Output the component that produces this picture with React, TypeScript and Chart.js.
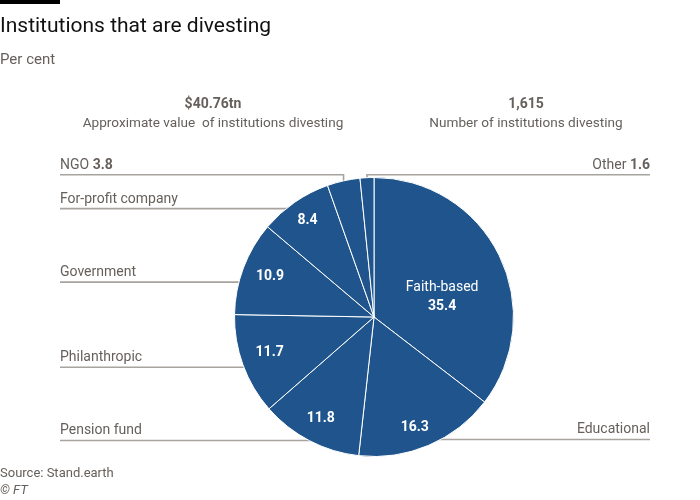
import React, { useEffect, useRef } from 'react';
import { Chart, registerables } from 'chart.js';
Chart.register(...registerables);

const categories = ['Faith-based', 'Educational', 'Pension fund', 'Philanthropic', 'Government', 'For-profit company', 'NGO', 'Other'];
const shares = [35.4, 16.3, 11.8, 11.7, 10.9, 8.4, 3.8, 1.6];
const headlineValues = ['$40.76tn', '1,615'];
const headlineCaptions = ['Approximate value  of institutions divesting', 'Number of institutions divesting'];
const titleText = 'Institutions that are divesting';
const subtitleText = 'Per cent';
const sourceText = 'Source: Stand.earth';
const creditText = '© FT';

// label layout (styling): side, leader y in units of radius from centre, inner label radius factor, angle nudge (deg)
type Lay = { side: 'left' | 'right' | 'none'; k: number; inner: number; nudge?: number; tick?: boolean; nameInside?: boolean; valueOutside?: boolean };
const labelLayout: Lay[] = [
  { side: 'none', k: 0, inner: 0.51, nudge: 9.5, nameInside: true },
  { side: 'right', k: 0.878, inner: 0.845, nudge: 2.8 },
  { side: 'left', k: 0.885, inner: 0.824 },
  { side: 'left', k: 0.36, inner: 0.79, nudge: 1.3 },
  { side: 'left', k: -0.25, inner: 0.8, nudge: 0.7 },
  { side: 'left', k: -0.777, inner: 0.84 },
  { side: 'left', k: -1.02, inner: 0, tick: true, valueOutside: true },
  { side: 'right', k: -1.02, inner: 0, tick: true, valueOutside: true },
];

const FONT = 'Roboto, "Noto Sans", sans-serif';
const GREY = '#66605c';
const LINE = '#a7a39e';
const BLUE = '#1f558c';

const textPlugin = {
  id: 'ftText',
  beforeDatasetsDraw(chart: any) {
    const ctx = chart.ctx;
    const meta = chart.getDatasetMeta(0);
    ctx.save();
    ctx.strokeStyle = LINE;
    ctx.lineWidth = 1.6;
    meta.data.forEach((arc: any, i: number) => {
      const lay = labelLayout[i];
      if (lay.side === 'none') return;
      const { x: cx, y: cy, outerRadius: R, startAngle, endAngle } = arc.getProps(['x', 'y', 'outerRadius', 'startAngle', 'endAngle'], true);
      const y = cy + lay.k * R;
      const mid = (startAngle + endAngle) / 2;
      ctx.beginPath();
      if (lay.tick) {
        const tx = cx + Math.cos(mid) * R;
        const ty = cy - Math.sqrt(Math.max(R * R - (tx - cx) * (tx - cx), 0));
        if (lay.side === 'left') {
          ctx.moveTo(60, y); ctx.lineTo(tx, y); ctx.lineTo(tx, ty + 2);
        } else {
          ctx.moveTo(650, y); ctx.lineTo(tx, y); ctx.lineTo(tx, ty + 2);
        }
      } else {
        const dx = Math.sqrt(Math.max(R * R - (y - cy) * (y - cy), 0));
        if (lay.side === 'left') { ctx.moveTo(60, y); ctx.lineTo(cx - dx + 2, y); }
        else { ctx.moveTo(650, y); ctx.lineTo(cx + dx - 2, y); }
      }
      ctx.stroke();
    });
    ctx.restore();
  },
  afterDatasetsDraw(chart: any) {
    const ctx = chart.ctx;
    const meta = chart.getDatasetMeta(0);
    ctx.save();
    // header bar
    ctx.fillStyle = '#000';
    ctx.fillRect(0, 0, 60, 4);
    ctx.textBaseline = 'alphabetic';
    ctx.textAlign = 'left';
    ctx.fillStyle = '#111';
    ctx.font = `21px ${FONT}`;
    ctx.fillText(titleText, 0, 32);
    ctx.fillStyle = GREY;
    ctx.font = `15px ${FONT}`;
    ctx.fillText(subtitleText, 0, 64);
    // headline stats
    const hx = [213, 526];
    ctx.textAlign = 'center';
    headlineValues.forEach((v, i) => {
      ctx.font = `bold 14px ${FONT}`;
      ctx.fillText(v, hx[i], 108);
      ctx.font = `13.6px ${FONT}`;
      ctx.fillText(headlineCaptions[i], hx[i], 127);
    });
    // source
    ctx.textAlign = 'left';
    ctx.font = `13px ${FONT}`;
    ctx.fillText(sourceText, 0, 477);
    ctx.font = `italic 13px ${FONT}`;
    ctx.fillText(creditText, 0, 494);

    meta.data.forEach((arc: any, i: number) => {
      const lay = labelLayout[i];
      const { x: cx, y: cy, outerRadius: R, startAngle, endAngle } = arc.getProps(['x', 'y', 'outerRadius', 'startAngle', 'endAngle'], true);
      const mid = (startAngle + endAngle) / 2 + ((lay.nudge || 0) * Math.PI) / 180;
      const val = shares[i].toFixed(1);
      // inside
      if (lay.inner > 0) {
        const lx = cx + Math.cos(mid) * R * lay.inner;
        const ly = cy + Math.sin(mid) * R * lay.inner;
        ctx.fillStyle = '#fff';
        ctx.textAlign = 'center';
        ctx.textBaseline = 'middle';
        if (lay.nameInside) {
          ctx.font = `14px ${FONT}`;
          ctx.fillText(categories[i], lx, ly - 9.5);
          ctx.font = `bold 14px ${FONT}`;
          ctx.fillText(val, lx, ly + 9.5);
        } else {
          ctx.font = `bold 14px ${FONT}`;
          ctx.fillText(val, lx, ly);
        }
      }
      if (lay.side === 'none') return;
      const y = cy + lay.k * R - 6;
      ctx.fillStyle = GREY;
      ctx.textBaseline = 'alphabetic';
      const name = categories[i];
      if (lay.side === 'left') {
        ctx.textAlign = 'left';
        ctx.font = `14px ${FONT}`;
        ctx.fillText(name, 60, y);
        if (lay.valueOutside) {
          const w = ctx.measureText(name + ' ').width;
          ctx.font = `bold 14px ${FONT}`;
          ctx.fillText(val, 60 + w, y);
        }
      } else {
        ctx.textAlign = 'right';
        if (lay.valueOutside) {
          ctx.font = `bold 14px ${FONT}`;
          const vw = ctx.measureText(val).width;
          ctx.fillText(val, 650, y);
          ctx.font = `14px ${FONT}`;
          ctx.fillText(name + ' ', 650 - vw, y);
        } else {
          ctx.font = `14px ${FONT}`;
          ctx.fillText(name, 650, y);
        }
      }
    });
    ctx.restore();
  },
};

export default function App() {
  const ref = useRef<HTMLCanvasElement>(null);
  useEffect(() => {
    document.body.style.margin = '0';
    const chart = new Chart(ref.current!, {
      type: 'pie',
      data: {
        labels: categories,
        datasets: [{
          data: shares,
          backgroundColor: BLUE,
          borderColor: '#ffffff',
          borderWidth: 1,
          hoverOffset: 0,
          offset: 0,
        }],
      },
      options: {
        animation: false,
        responsive: false,
        events: [],
        layout: { padding: { left: 234, right: 186, top: 177, bottom: 43 } },
        plugins: { legend: { display: false }, tooltip: { enabled: false }, title: { display: false } },
      },
      plugins: [textPlugin],
    });
    return () => chart.destroy();
  }, []);
  return (
    <div style={{ position: 'absolute', left: 0, top: 0, width: 700, height: 500, background: '#fff' }}>
      <canvas ref={ref} width={700} height={500} />
    </div>
  );
}
